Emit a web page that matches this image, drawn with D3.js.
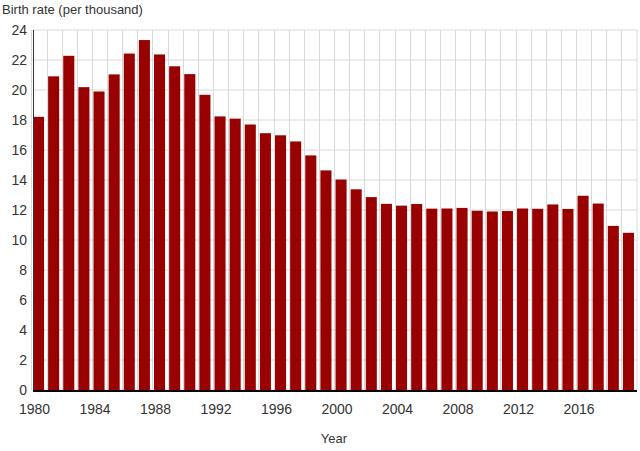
<!DOCTYPE html>
<html><head><meta charset="utf-8">
<script src="https://cdn.jsdelivr.net/npm/d3@7"></script>
<style>body{margin:0;background:#fff;font-family:"Liberation Sans",Arial,sans-serif;}</style>
</head><body><svg id="c" width="640" height="451"></svg>
<script>
const years = d3.range(1980, 2020);
const birthRates = [18.21,20.91,22.28,20.19,19.90,21.04,22.43,23.33,22.37,21.58,21.06,19.68,18.24,18.09,17.70,17.12,16.98,16.57,15.64,14.64,14.03,13.38,12.86,12.41,12.29,12.40,12.09,12.10,12.14,11.95,11.90,11.93,12.10,12.08,12.37,12.07,12.95,12.43,10.94,10.48];
const yTicks = d3.range(0, 25, 2);
const xTickYears = d3.range(1980, 2020, 4);

const svg = d3.select("#c");
const m = {l:33, r:3, t:30, b:61};
const W = 640, H = 451;
const x = d3.scaleBand().domain(years).range([m.l, W-m.r]).paddingInner(0.27).paddingOuter(0.1).align(0);
const y = d3.scaleLinear().domain([0,24]).range([H-m.b, m.t]);
const step = x.step();
const left = x(years[0]) - step*0.1;

// grid
const g = svg.append("g");
yTicks.forEach(t => g.append("line").attr("x1", m.l).attr("x2", W-m.r).attr("y1", y(t)).attr("y2", y(t)).attr("stroke", "#d9d9d9"));
years.forEach((yr,i) => { const xx = Math.round(left + i*step)+0.5; g.append("line").attr("x1", xx).attr("x2", xx).attr("y1", m.t).attr("y2", y(0)).attr("stroke", "#d9d9d9"); });
g.append("line").attr("x1", W-m.r).attr("x2", W-m.r).attr("y1", m.t).attr("y2", y(0)).attr("stroke", "#d9d9d9");

svg.selectAll("rect.b").data(years).enter().append("rect")
  .attr("x", d => x(d)).attr("width", x.bandwidth())
  .attr("y", (d,i) => y(birthRates[i])).attr("height", (d,i) => y(0)-y(birthRates[i]))
  .attr("fill", "#990000");

// y labels
yTicks.forEach(t => svg.append("text").attr("x", m.l-6).attr("y", y(t)+5).attr("text-anchor","end").attr("font-size",14).attr("fill","#333").text(t));
// left axis line
svg.append("line").attr("x1", m.l+0.5).attr("x2", m.l+0.5).attr("y1", m.t).attr("y2", y(0)).attr("stroke","#333");
// bottom axis
svg.append("line").attr("x1", m.l).attr("x2", W-m.r).attr("y1", y(0)+1).attr("y2", y(0)+1).attr("stroke","#000").attr("stroke-width",2);
xTickYears.forEach(yr => {
  const i = yr-1980; const xx = left + i*step + 3;
  svg.append("text").attr("x", xx).attr("y", y(0)+24).attr("text-anchor","middle").attr("font-size",14).attr("fill","#333").text(yr);
});
svg.append("text").attr("x", 334).attr("y", 443).attr("text-anchor","middle").attr("font-size",13).attr("fill","#333").text("Year");
svg.append("text").attr("x", 2).attr("y", 14).attr("font-size",13).attr("fill","#333").text("Birth rate (per thousand)");
</script></body></html>
